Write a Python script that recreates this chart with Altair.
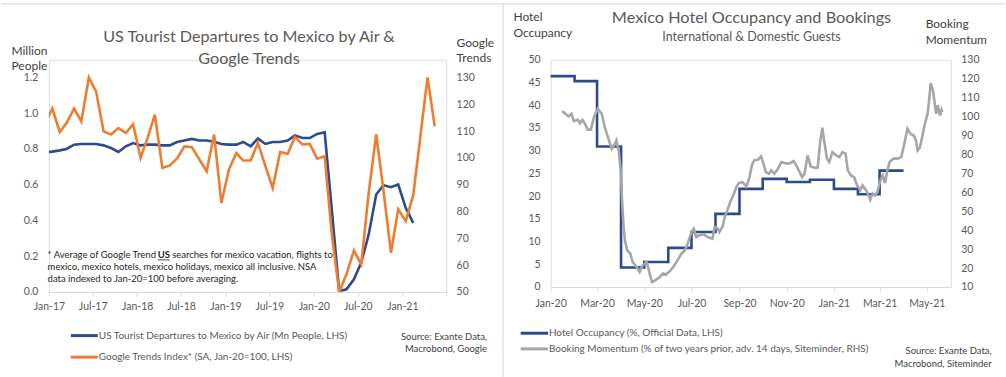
import altair as alt
import pandas as pd

# ---------------- data ----------------
# Left chart: monthly, Dec-16 .. May-21 (points plotted mid-month)
left_months = pd.date_range("2016-12-01", "2021-05-01", freq="MS")
tourists_mn = [0.780,
               0.785, 0.792, 0.800, 0.824, 0.828, 0.828, 0.828, 0.820, 0.805, 0.783, 0.815, 0.833,
               0.820, 0.824, 0.824, 0.820, 0.820, 0.839, 0.847, 0.856, 0.847, 0.847, 0.840, 0.828,
               0.824, 0.824, 0.839, 0.815, 0.858, 0.828, 0.839, 0.839, 0.847, 0.876, 0.861, 0.861,
               0.884, 0.893, 0.467, 0.005, 0.015, 0.071, 0.164, 0.322, 0.545, 0.597, 0.586, 0.601,
               0.471, 0.387]
google_idx = [112.5,
              118.4, 109.7, 113.0, 118.4, 113.6, 130.0, 124.8, 109.9, 108.7, 111.1, 109.3, 112.6,
              100.0, 108.0, 116.1, 96.3, 97.1, 99.8, 104.3, 104.0, 99.4, 95.0, 108.7, 83.2,
              95.7, 101.8, 99.0, 99.0, 105.6, 96.9, 88.8, 102.2, 101.5, 107.8, 105.0, 105.2,
              99.7, 100.6, 72.0, 50.0, 56.6, 65.5, 60.3, 87.0, 108.8, 88.0, 64.6, 80.8,
              76.4, 86.0, 106.8, 130.0, 111.8]
left_series = ["US Tourist Departures to Mexico by Air (Mn People, LHS)",
               "Google Trends Index* (SA, Jan-20=100, LHS)"]

# Right chart: monthly hotel occupancy (step), Jan-20 .. Mar-21 (+ end of Mar-21)
occ_months = pd.date_range("2020-01-01", "2021-04-01", freq="MS")
hotel_occ = [46.4, 45.3, 30.9, 4.3, 5.5, 8.6, 12.1, 16.1, 21.6, 23.8, 23.1, 23.6, 21.6, 20.4, 25.6, 25.6]

# Booking momentum: days since 2020-01-01 and value
booking_day = [15, 19, 23, 27, 30, 35, 38, 41, 44, 48, 52, 56, 61, 66, 70, 74, 79, 82, 85, 88,
               91, 92, 94, 96, 99, 103, 106, 111, 115, 119, 124, 127, 129, 131, 135, 141, 145, 149, 155, 160,
               164, 169, 173, 177, 182, 185, 188, 192, 198, 203, 209, 212, 216, 218, 222, 225, 229, 233, 236, 240,
               243, 248, 253, 257, 260, 263, 268, 272, 275, 278, 282, 285, 289, 293, 298, 303, 308, 314, 318, 321,
               325, 328, 332, 336, 341, 345, 348, 351, 354, 357, 360, 364, 369, 373, 377, 381, 384, 388, 392, 396,
               400, 403, 406, 409, 413, 416, 419, 422, 426, 429, 432, 435, 438, 443, 448, 453, 457, 461, 465, 469,
               472, 474, 477, 480, 483, 487, 489, 491, 494, 496, 498, 500, 503, 505, 506]
booking_mom = [102.9, 101.5, 100.1, 101.5, 97.6, 98.3, 96.5, 98.3, 96.5, 93.1, 93.1, 99.7, 104.1, 101.5, 94.4, 89.2, 83.0, 84.8, 87.4, 82.1,
               69.8, 57.5, 43.5, 34.6, 29.4, 27.6, 23.2, 20.6, 17.9, 21.5, 23.2, 18.8, 15.3, 12.6, 13.5, 15.3, 17.1, 16.6, 18.8, 21.5,
               24.1, 27.6, 29.0, 32.9, 39.0, 40.8, 36.4, 37.3, 37.8, 36.4, 35.5, 41.7, 40.8, 39.0, 41.7, 46.9, 51.4, 55.8, 58.4, 62.8,
               64.9, 65.4, 63.1, 68.0, 74.2, 76.9, 77.2, 79.0, 75.1, 70.7, 69.8, 71.6, 69.8, 72.0, 76.0, 75.4, 75.1, 76.5, 73.7, 71.2,
               68.0, 69.8, 79.5, 73.7, 73.0, 73.0, 85.7, 94.1, 85.7, 77.8, 76.0, 81.2, 79.5, 78.6, 81.2, 80.4, 71.6, 68.9, 68.0, 63.7,
               61.0, 63.7, 61.9, 60.1, 56.1, 59.3, 58.4, 60.1, 66.3, 68.9, 64.9, 71.6, 76.0, 77.8, 77.8, 78.6, 85.7, 93.6, 90.9, 90.0,
               87.4, 82.1, 83.6, 89.2, 95.3, 101.5, 108.5, 117.6, 113.8, 107.6, 101.5, 105.9, 100.6, 103.6, 102.3]
right_series = ["Hotel Occupancy (%, Official Data, LHS)",
                "Booking Momentum (% of two years prior, adv. 14 days, Siteminder, RHS)"]

# ---------------- style ----------------
FONT = "Lato"
BLUE = "#2B4B8C"
ORANGE = "#ED7D31"
GRAY = "#A6A6A6"
TXT = "#595959"
DARK = "#404040"
NOTE = "#262626"
AXLINE = "#D9D9D9"

FMT = "%Y-%m-%dT00:00:00"
df_tour = pd.DataFrame({"date": (left_months[:len(tourists_mn)] + pd.Timedelta(days=14)).strftime(FMT),
                        "v": tourists_mn})
df_goog = pd.DataFrame({"date": (left_months + pd.Timedelta(days=14)).strftime(FMT), "v": google_idx})
df_occ = pd.DataFrame({"date": occ_months.strftime(FMT), "v": hotel_occ})
df_book = pd.DataFrame({"date": (pd.Timestamp("2020-01-01") + pd.to_timedelta(booking_day, unit="D")).strftime(FMT),
                        "v": booking_mom})

ONE = alt.Data(values=[{}])


def txt(text, x, y, size, color, align="left", baseline="middle", weight="normal"):
    return alt.Chart(ONE).mark_text(text=text, align=align, baseline=baseline, font=FONT,
                                    fontSize=size, color=color, fontWeight=weight).encode(
        x=alt.value(x), y=alt.value(y))


def hrule(x1, x2, y, color, width):
    return alt.Chart(ONE).mark_rule(color=color, strokeWidth=width).encode(
        x=alt.value(x1), x2=alt.value(x2), y=alt.value(y))


def vrule(x, y1, y2, color, width):
    return alt.Chart(ONE).mark_rule(color=color, strokeWidth=width).encode(
        x=alt.value(x), y=alt.value(y1), y2=alt.value(y2))


lab = dict(labelFont=FONT, labelFontSize=10.5, labelColor=TXT, titleFont=FONT, titleFontSize=12,
           titleColor=DARK, titleFontWeight="normal", grid=False)

# ---------------- left panel ----------------
W1, H1 = 398, 232.7
OX1, OY1 = 48, 59.3
xl_vals = [alt.DateTime(year=y, month=m, date=1) for y in range(2017, 2022) for m in (1, 7)]
x_left = alt.X("date:T",
               scale=alt.Scale(domain=[alt.DateTime(year=2017, month=1, date=1),
                                       alt.DateTime(year=2021, month=7, date=1)]),
               axis=alt.Axis(values=xl_vals, title=None, domainColor=AXLINE, tickColor=AXLINE, tickSize=4,
                             labelPadding=6, labelOverlap=False, labelFlush=False,
                             labelExpr="(year(datum.value) == 2021 && month(datum.value) == 6) ? '' : timeFormat(datum.value, '%b-%y')",
                             **lab))

blue_l = alt.Chart(df_tour).mark_line(color=BLUE, strokeWidth=2.6, clip=True).encode(
    x=x_left,
    y=alt.Y("v:Q", scale=alt.Scale(domain=[0, 1.2988], nice=False, zero=False),
            axis=alt.Axis(orient="left", values=[0, 0.2, 0.4, 0.6, 0.8, 1.0, 1.2], format=".1f",
                          domain=False, ticks=False, labelPadding=11, title=["Million", "People"],
                          titleAngle=0, titleAlign="left", titleBaseline="alphabetic",
                          titleX=10 - OX1, titleY=54 - OY1, titleLineHeight=15, **lab)))
orange_l = alt.Chart(df_goog).mark_line(color=ORANGE, strokeWidth=2.6, clip=True).encode(
    x=x_left,
    y=alt.Y("v:Q", scale=alt.Scale(domain=[50, 136.59], nice=False, zero=False),
            axis=alt.Axis(orient="right", values=list(range(50, 131, 10)), domain=False, ticks=False,
                          labelPadding=10, title=["Google", "Trends"], titleAngle=0, titleAlign="left",
                          titleBaseline="alphabetic", titleX=456 - (OX1 + W1), titleY=46 - OY1,
                          titleLineHeight=15, **lab)))

left_extra = [
    hrule(-OX1, 1006 - OX1, 3.3 - OY1, "#D0D0D0", 1),
    txt("US Tourist Departures to Mexico by Air &", 248.5 - OX1, 37 - OY1, 16.2, TXT, align="center"),
    txt("Google Trends", 248.5 - OX1, 59 - OY1, 16.2, TXT, align="center"),
    txt("* Average of Google Trend", 46.7 - OX1, 255 - OY1, 9.5, NOTE),
    txt("US", 157 - OX1, 255 - OY1, 9.5, NOTE, weight="bold"),
    hrule(157 - OX1, 169 - OX1, 259.8 - OY1, NOTE, 0.8),
    txt("searches for mexico vacation, flights to", 171.5 - OX1, 255 - OY1, 9.5, NOTE),
    txt("mexico, mexico hotels, mexico holidays, mexico all inclusive. NSA", 46.7 - OX1, 267 - OY1, 9.5, NOTE),
    txt("data indexed to Jan-20=100 before averaging.", 46.7 - OX1, 279 - OY1, 9.5, NOTE),
    hrule(70 - OX1, 97 - OX1, 335.7 - OY1, BLUE, 3),
    hrule(70 - OX1, 97 - OX1, 357.3 - OY1, ORANGE, 3),
    txt(left_series[0], 98 - OX1, 335.7 - OY1, 10, TXT),
    txt(left_series[1], 98 - OX1, 357.3 - OY1, 10, TXT),
    txt("Source: Exante Data,", 487 - OX1, 336.7 - OY1, 9.5, DARK, align="right"),
    txt("Macrobond, Google", 487 - OX1, 349.3 - OY1, 9.5, DARK, align="right"),
]

left = alt.layer(blue_l, orange_l, *left_extra).resolve_scale(y="independent").properties(width=W1, height=H1)

# ---------------- right panel ----------------
W2, H2 = 401, 227.7
OX2, OY2 = 550.7, 59.3
xr_vals = [alt.DateTime(year=2020 + (i // 6), month=(2 * i) % 12 + 1, date=1) for i in range(9)]
x_right = alt.X("date:T",
                scale=alt.Scale(domain=[alt.DateTime(year=2020, month=1, date=1),
                                        alt.DateTime(year=2021, month=6, date=1)]),
                axis=alt.Axis(values=xr_vals, format="%b-%y", title=None, domainColor=AXLINE, tickColor=AXLINE,
                              tickSize=4, labelPadding=7.5, labelOverlap=False, labelFlush=False, **lab))

occ_r = alt.Chart(df_occ).mark_line(color=BLUE, strokeWidth=2.6, interpolate="step-after").encode(
    x=x_right,
    y=alt.Y("v:Q", scale=alt.Scale(domain=[0, 50], nice=False),
            axis=alt.Axis(orient="left", values=list(range(0, 51, 5)), domain=False, ticks=False,
                          labelPadding=10.5, title=["Hotel", "Occupancy"], titleAngle=0, titleAlign="left",
                          titleBaseline="alphabetic", titleX=513 - OX2, titleY=20 - OY2,
                          titleLineHeight=16, **lab)))
book_r = alt.Chart(df_book).mark_line(color=GRAY, strokeWidth=2.6).encode(
    x=x_right,
    y=alt.Y("v:Q", scale=alt.Scale(domain=[10, 130], nice=False, zero=False),
            axis=alt.Axis(orient="right", values=list(range(10, 131, 10)), domain=False, ticks=False,
                          labelPadding=10, title=["Booking", "Momentum"], titleAngle=0, titleAlign="left",
                          titleBaseline="alphabetic", titleX=926 - (OX2 + W2), titleY=27 - OY2,
                          titleLineHeight=16, **lab)))

right_extra = [
    vrule(503 - OX2, 3.3 - OY2, 377 - OY2, "#D0D0D0", 1),
    txt("Mexico Hotel Occupancy and Bookings", 752 - OX2, 17 - OY2, 16.3, TXT, align="center"),
    txt("International & Domestic Guests", 752 - OX2, 37 - OY2, 12.5, TXT, align="center"),
    hrule(520.7 - OX2, 548.3 - OX2, 333.3 - OY2, BLUE, 3),
    hrule(520.7 - OX2, 548.3 - OX2, 349 - OY2, GRAY, 3),
    txt(right_series[0], 549 - OX2, 333.3 - OY2, 10, TXT),
    txt(right_series[1], 549 - OX2, 349 - OY2, 10, TXT),
    txt("Source: Exante Data,", 992.7 - OX2, 351 - OY2, 9.5, DARK, align="right"),
    txt("Macrobond, Siteminder", 992.7 - OX2, 364.3 - OY2, 9.5, DARK, align="right"),
]

right = alt.layer(occ_r, book_r, *right_extra).resolve_scale(y="independent").properties(width=W2, height=H2)

chart = alt.hconcat(left, right, spacing=OX2 - (OX1 + W1), bounds="flush").properties(
    padding={"left": 0, "top": 2.5, "right": 0, "bottom": 0},
    background="white",
).configure_view(stroke=None).configure(font=FONT)

chart.save("out.html", embed_options={"renderer": "svg", "actions": False})
